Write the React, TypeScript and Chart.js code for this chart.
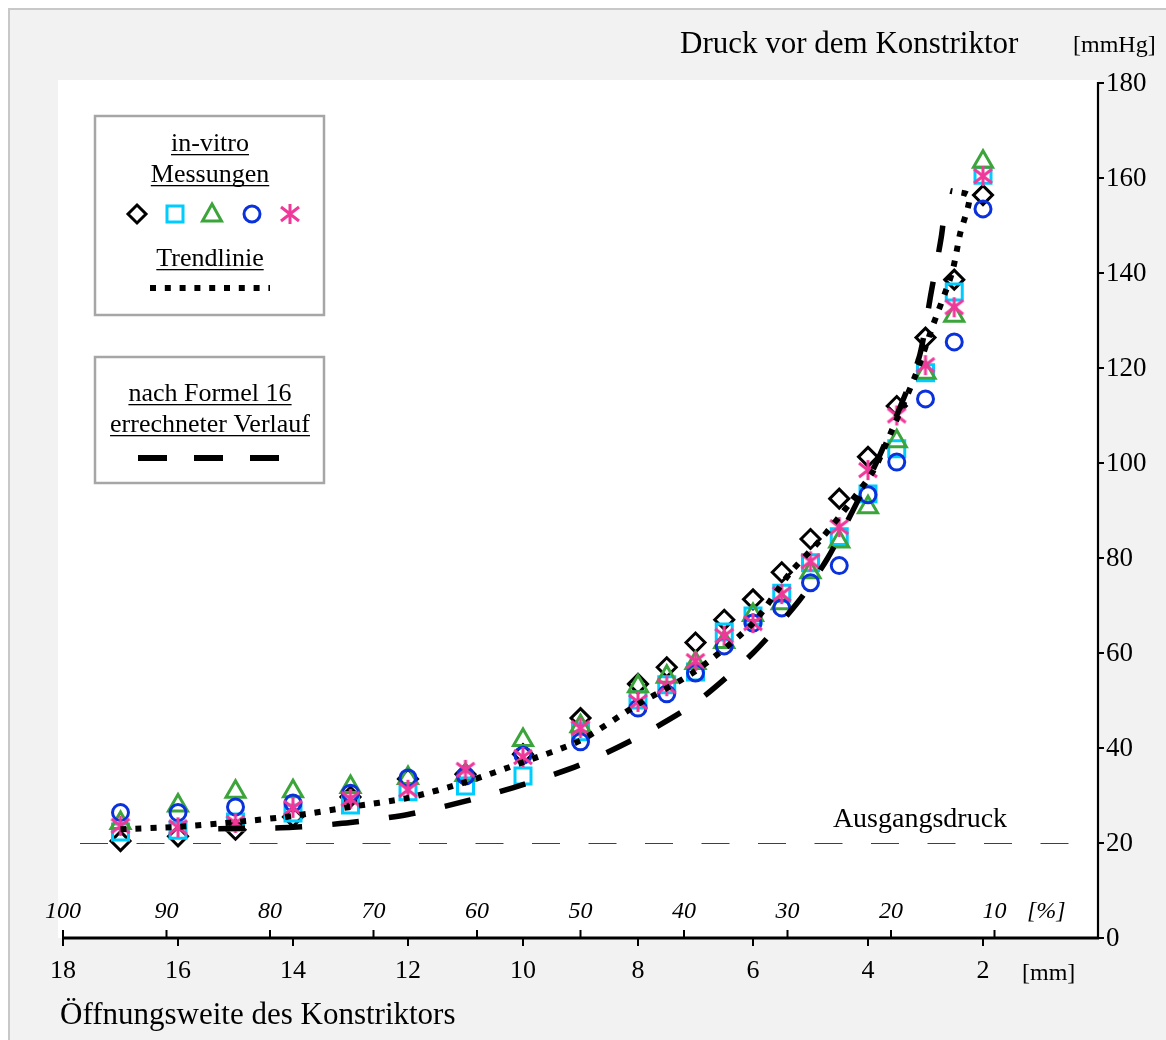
import React, { useEffect, useRef } from 'react';
import { Chart, registerables } from 'chart.js';

Chart.register(...registerables);

// ---------- data ----------
const openingMm = [17, 16, 15, 14, 13, 12, 11, 10, 9, 8, 7.5, 7, 6.5, 6, 5.5, 5, 4.5, 4, 3.5, 3, 2.5, 2];
const seriesDiamond = [20.4, 21.4, 22.8, 25.5, 29.7, 33.5, 34.5, 38.7, 46.3, 53.5, 57, 62.2, 67, 71.3, 77, 84, 92.5, 101.3, 112, 126.4, 138.6, 156.4];
const seriesSquare = [22.3, 22.7, 24.4, 26.3, 28, 30.8, 32, 34.1, 43.4, 50.1, 53.3, 56, 64.4, 67.8, 72.6, 79, 84.5, 93.5, 103, 119, 136, 160.6];
const seriesTriangle = [24.2, 27.9, 30.8, 30.9, 31.8, 33.7, 34.3, 41.7, 44.6, 53, 55, 57.9, 62.3, 68, 70.5, 77, 83.5, 90.7, 104.6, 119, 131, 163.4];
const seriesCircle = [26.4, 26.4, 27.6, 28.4, 30.5, 33.7, 34.1, 38.5, 41.3, 48.4, 51.4, 55.8, 61.5, 66.3, 69.5, 74.8, 78.4, 93.3, 100.2, 113.5, 125.5, 153.5];
const seriesStar = [23.6, 23.3, 24.2, 27.4, 29.3, 31.2, 35.4, 38.1, 44.2, 49.7, 53, 58.3, 63.6, 66.3, 72.4, 79.3, 86.5, 98.5, 110, 120.6, 132.8, 160.4];

const trendMm = [17, 16, 15, 14, 13, 12, 11, 10, 9, 8, 7, 6, 5.36, 4.83, 4.31, 3.9, 3.58, 3.18, 2.87, 2.54, 2.4, 2.24, 2.57];
const trendPressure = [22.9, 23.4, 24.4, 25.7, 27.6, 29.5, 32.8, 37, 41.6, 49.2, 56.2, 66.3, 76.8, 83.8, 91.6, 98.5, 107, 118.3, 129, 140, 148.2, 156.2, 157.3];

const formulaMm = [15.3, 14, 13, 12, 11, 10, 9, 8, 7, 6, 5.2, 4.7, 4.2, 3.8, 3.4, 3.1, 2.9, 2.72, 2.65];
const formulaPressure = [23, 23.3, 24.3, 26, 28.8, 32.3, 36.5, 42.3, 49.5, 60, 71, 80, 91.5, 101.5, 113, 122.7, 136, 148, 156];

const yTicks = [0, 20, 40, 60, 80, 100, 120, 140, 160, 180];
const mmTicks = [18, 16, 14, 12, 10, 8, 6, 4, 2];
const pctTicks = [100, 90, 80, 70, 60, 50, 40, 30, 20, 10];
const baselinePressure = 20;

const titleY = 'Druck vor dem Konstriktor';
const unitY = '[mmHg]';
const titleX = 'Öffnungsweite des Konstriktors';
const unitX = '[mm]';
const unitPct = '[%]';
const baselineLabel = 'Ausgangsdruck';
const legendText1 = ['in-vitro', 'Messungen'];
const legendText2 = 'Trendlinie';
const legendText3 = ['nach Formel 16', 'errechneter Verlauf'];

// ---------- styles ----------
const W = 1166;
const H = 1040;
const FONT = '"Liberation Serif", "Times New Roman", Times, serif';
const C_DIAMOND = '#000000';
const C_SQUARE = '#00CCFF';
const C_TRIANGLE = '#3BA53B';
const C_CIRCLE = '#0A32DC';
const C_STAR = '#F0389A';
const MARKER_W = 3;

function drawMarker(ctx: CanvasRenderingContext2D, kind: string, x: number, y: number) {
  ctx.save();
  ctx.lineWidth = MARKER_W;
  ctx.lineJoin = 'miter';
  ctx.beginPath();
  if (kind === 'diamond') {
    ctx.strokeStyle = C_DIAMOND;
    ctx.moveTo(x, y - 9); ctx.lineTo(x + 9, y); ctx.lineTo(x, y + 9); ctx.lineTo(x - 9, y); ctx.closePath();
  } else if (kind === 'square') {
    ctx.strokeStyle = C_SQUARE;
    ctx.rect(x - 8, y - 8, 16, 16);
  } else if (kind === 'triangle') {
    ctx.strokeStyle = C_TRIANGLE;
    ctx.moveTo(x, y - 10); ctx.lineTo(x + 9.5, y + 7); ctx.lineTo(x - 9.5, y + 7); ctx.closePath();
  } else if (kind === 'circle') {
    ctx.strokeStyle = C_CIRCLE;
    ctx.arc(x, y, 8, 0, Math.PI * 2);
  } else {
    ctx.strokeStyle = C_STAR;
    ctx.moveTo(x, y - 10); ctx.lineTo(x, y + 10);
    ctx.moveTo(x - 9, y - 7); ctx.lineTo(x + 9, y + 7);
    ctx.moveTo(x - 9, y + 7); ctx.lineTo(x + 9, y - 7);
  }
  ctx.stroke();
  ctx.restore();
}

function makeStarImage(): HTMLCanvasElement {
  const c = document.createElement('canvas');
  c.width = 26;
  c.height = 26;
  const g = c.getContext('2d')!;
  drawMarker(g, 'star', 13, 13);
  return c;
}

function underlined(ctx: CanvasRenderingContext2D, text: string, cx: number, baseY: number) {
  ctx.textAlign = 'center';
  ctx.textBaseline = 'alphabetic';
  ctx.fillText(text, cx, baseY);
  const w = ctx.measureText(text).width;
  ctx.fillRect(cx - w / 2, baseY + 3, w, 1.3);
}

const decorPlugin = {
  id: 'decor',
  beforeDraw(chart: any) {
    const ctx: CanvasRenderingContext2D = chart.ctx;
    const xs = chart.scales.x;
    const ys = chart.scales.y;
    ctx.save();
    ctx.fillStyle = '#ffffff';
    ctx.fillRect(0, 0, W, H);
    ctx.fillStyle = '#f2f2f2';
    ctx.fillRect(10, 10, W - 10, H - 10);
    ctx.fillStyle = '#c8c8c8';
    ctx.fillRect(8, 8, 2, H - 8);
    ctx.fillRect(8, 8, W - 8, 2);
    ctx.fillStyle = '#ffffff';
    const right = xs.getPixelForValue(0);
    const bottom = ys.getPixelForValue(0);
    ctx.fillRect(58, 80, right - 58, bottom - 80);
    ctx.restore();
  },
  beforeDatasetsDraw(chart: any) {
    const ctx: CanvasRenderingContext2D = chart.ctx;
    const ys = chart.scales.y;
    const yb = Math.round(ys.getPixelForValue(baselinePressure)) + 0.5;
    ctx.save();
    ctx.strokeStyle = '#404040';
    ctx.lineWidth = 1.1;
    ctx.setLineDash([28, 28.5]);
    ctx.beginPath();
    ctx.moveTo(80, yb);
    ctx.lineTo(1072, yb);
    ctx.stroke();
    ctx.setLineDash([]);
    ctx.fillStyle = '#000';
    ctx.font = `28px ${FONT}`;
    ctx.textAlign = 'center';
    ctx.textBaseline = 'alphabetic';
    ctx.fillText(baselineLabel, 920, yb - 17);
    ctx.restore();
  },
  afterDraw(chart: any) {
    const ctx: CanvasRenderingContext2D = chart.ctx;
    const xs = chart.scales.x;
    const xp = chart.scales.x2;
    const ys = chart.scales.y;
    const x0 = xs.getPixelForValue(0);
    const y0 = ys.getPixelForValue(0);
    ctx.save();
    ctx.fillStyle = '#000';
    ctx.strokeStyle = '#000';

    // axes lines
    ctx.lineWidth = 3;
    ctx.beginPath();
    ctx.moveTo(xs.getPixelForValue(18), y0);
    ctx.lineTo(x0 + 1, y0);
    ctx.stroke();
    ctx.lineWidth = 2.2;
    ctx.beginPath();
    ctx.moveTo(x0, y0 + 1);
    ctx.lineTo(x0, ys.getPixelForValue(180) - 1);
    ctx.stroke();

    // y ticks + labels
    ctx.font = `27px ${FONT}`;
    ctx.textAlign = 'left';
    ctx.textBaseline = 'middle';
    ctx.lineWidth = 2;
    for (const v of yTicks) {
      const py = ys.getPixelForValue(v);
      ctx.beginPath();
      ctx.moveTo(x0, py);
      ctx.lineTo(x0 + 6, py);
      ctx.stroke();
      ctx.fillText(String(v), x0 + 8, py + 1);
    }

    // mm ticks + labels
    ctx.font = `26px ${FONT}`;
    ctx.textAlign = 'center';
    ctx.textBaseline = 'alphabetic';
    for (const v of mmTicks) {
      const px = xs.getPixelForValue(v);
      ctx.beginPath();
      ctx.moveTo(px, y0);
      ctx.lineTo(px, y0 + 8);
      ctx.stroke();
      ctx.fillText(String(v), px, 978);
    }
    ctx.font = `24px ${FONT}`;
    ctx.textAlign = 'left';
    ctx.fillText(unitX, 1022, 980);

    // percent ticks + labels
    ctx.font = `italic 24px ${FONT}`;
    ctx.textAlign = 'center';
    for (const v of pctTicks) {
      const px = xp.getPixelForValue(v);
      ctx.beginPath();
      ctx.moveTo(px, y0);
      ctx.lineTo(px, y0 - 8);
      ctx.stroke();
      ctx.fillText(String(v), px, 918);
    }
    ctx.textAlign = 'left';
    ctx.fillText(unitPct, 1027, 918);

    // titles
    ctx.font = `31px ${FONT}`;
    ctx.textAlign = 'left';
    ctx.fillText(titleY, 680, 53);
    ctx.fillText(titleX, 60, 1024);
    ctx.font = `24px ${FONT}`;
    ctx.fillText(unitY, 1073, 52);

    // legend boxes
    ctx.strokeStyle = '#a6a6a6';
    ctx.lineWidth = 2.5;
    ctx.strokeRect(95, 116, 229, 199);
    ctx.strokeRect(95, 357, 229, 126);
    ctx.fillStyle = '#000';
    ctx.font = `26px ${FONT}`;
    underlined(ctx, legendText1[0], 210, 151);
    underlined(ctx, legendText1[1], 210, 182);
    underlined(ctx, legendText2, 210, 266);
    underlined(ctx, legendText3[0], 210, 401);
    underlined(ctx, legendText3[1], 210, 432);
    drawMarker(ctx, 'diamond', 137, 214);
    drawMarker(ctx, 'square', 175, 214);
    drawMarker(ctx, 'triangle', 212, 214);
    drawMarker(ctx, 'circle', 252, 214);
    drawMarker(ctx, 'star', 290, 214);
    ctx.strokeStyle = '#000';
    ctx.lineWidth = 6;
    ctx.setLineDash([6, 8.8]);
    ctx.beginPath();
    ctx.moveTo(150, 288);
    ctx.lineTo(270, 288);
    ctx.stroke();
    ctx.setLineDash([29, 27]);
    ctx.beginPath();
    ctx.moveTo(138, 458);
    ctx.lineTo(281, 458);
    ctx.stroke();
    ctx.restore();
  },
};

function pts(xsArr: number[], ysArr: number[]) {
  return xsArr.map((x, i) => ({ x, y: ysArr[i] }));
}

export default function App() {
  const ref = useRef<HTMLCanvasElement>(null);
  useEffect(() => {
    if (!ref.current) return;
    const star = makeStarImage();
    const markerBase = {
      type: 'scatter' as const,
      showLine: false,
      pointBackgroundColor: 'rgba(0,0,0,0)',
      pointBorderWidth: MARKER_W,
      pointHoverRadius: 0,
    };
    const chart = new Chart(ref.current, {
      type: 'scatter',
      data: {
        datasets: [
          {
            ...markerBase,
            label: 'diamond',
            data: pts(openingMm, seriesDiamond),
            pointStyle: 'rectRot',
            pointRadius: 9.5,
            pointBorderColor: C_DIAMOND,
            order: 6,
          },
          {
            ...markerBase,
            label: 'square',
            data: pts(openingMm, seriesSquare),
            pointStyle: 'rect',
            pointRadius: 11.3,
            pointBorderColor: C_SQUARE,
            order: 5,
          },
          {
            ...markerBase,
            label: 'triangle',
            data: pts(openingMm, seriesTriangle),
            pointStyle: 'triangle',
            pointRadius: 11,
            pointBorderColor: C_TRIANGLE,
            order: 4,
          },
          {
            ...markerBase,
            label: 'circle',
            data: pts(openingMm, seriesCircle),
            pointStyle: 'circle',
            pointRadius: 8,
            pointBorderColor: C_CIRCLE,
            order: 3,
          },
          {
            ...markerBase,
            label: 'star',
            data: pts(openingMm, seriesStar),
            pointStyle: star as any,
            pointRadius: 10,
            pointBorderColor: C_STAR,
            order: 2,
          },
          {
            type: 'scatter',
            label: 'Trendlinie',
            data: pts(trendMm, trendPressure),
            showLine: true,
            borderColor: '#000',
            borderWidth: 6,
            borderDash: [6, 9],
            borderCapStyle: 'butt',
            tension: 0.25,
            pointRadius: 0,
            order: 1,
          },
          {
            type: 'scatter',
            label: 'Formel 16',
            data: pts(formulaMm, formulaPressure),
            showLine: true,
            borderColor: '#000',
            borderWidth: 5.5,
            borderDash: [27, 30],
            borderCapStyle: 'butt',
            tension: 0.25,
            pointRadius: 0,
            order: 0,
          },
        ],
      },
      options: {
        responsive: false,
        animation: false,
        devicePixelRatio: 1,
        events: [],
        layout: { padding: { left: 63, right: W - 1098, top: 83, bottom: H - 938 } },
        plugins: { legend: { display: false }, tooltip: { enabled: false } },
        scales: {
          x: { type: 'linear', min: 0, max: 18, reverse: true, display: false },
          x2: { type: 'linear', axis: 'x', position: 'bottom', min: 0, max: 100, reverse: true, display: false },
          y: { type: 'linear', min: 0, max: 180, display: false },
        },
      } as any,
      plugins: [decorPlugin],
    } as any);
    return () => chart.destroy();
  }, []);
  return (
    <div style={{ position: 'absolute', left: 0, top: 0, width: W, height: H, overflow: 'hidden' }}>
      <canvas ref={ref} width={W} height={H} style={{ display: 'block', width: W, height: H }} />
    </div>
  );
}
